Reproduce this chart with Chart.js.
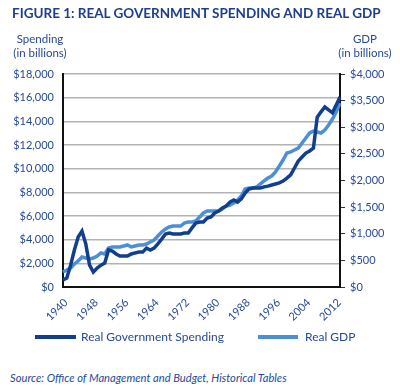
<!DOCTYPE html>
<html>
<head>
<meta charset="utf-8">
<script src="https://cdn.jsdelivr.net/npm/chart.js@4.4.1/dist/chart.umd.min.js"></script>
<style>
  html, body { margin: 0; padding: 0; background: #fff; }
  body { width: 400px; height: 392px; position: relative; overflow: hidden; font-family: Lato, "Open Sans", sans-serif; color: #264a98; }
  .txt { position: absolute; white-space: nowrap; }
  #title { left: 12px; top: 5px; font-size: 13.5px; font-weight: bold; color: #1d3d8f; }
  .unit { font-size: 11.5px; line-height: 14px; text-align: center; }
  #chartBox { position: absolute; left: 0; top: 0; width: 400px; height: 330px; }
  .legLine { position: absolute; height: 4px; }
  #source { left: 10px; top: 371px; font-size: 11.2px; font-style: italic; }
</style>
</head>
<body>
<div id="chartBox"><canvas id="chart"></canvas></div>
<div class="txt" id="title">FIGURE 1: REAL GOVERNMENT SPENDING AND REAL GDP</div>
<div class="txt unit" style="left:12px; top:32px; width:56px;">Spending<br>(in billions)</div>
<div class="txt unit" style="left:337px; top:32px; width:56px;">GDP<br>(in billions)</div>
<div class="legLine" style="left:35px; top:335px; width:41px; background:#113f8e;"></div>
<div class="txt" style="left:81px; top:329px; font-size:12px;">Real Government Spending</div>
<div class="legLine" style="left:258px; top:335px; width:40px; background:#4b8fd6;"></div>
<div class="txt" style="left:305px; top:329px; font-size:12px;">Real GDP</div>
<div class="txt" id="source">Source: Office of Management and Budget, Historical Tables</div>

<script>
// years on the x axis
const years = [
  1940, 1941, 1942, 1943, 1944, 1945, 1946, 1947, 1948, 1949,
  1950, 1951, 1952, 1953, 1954, 1955, 1956, 1957, 1958, 1959,
  1960, 1961, 1962, 1963, 1964, 1965, 1966, 1967, 1968, 1969,
  1970, 1971, 1972, 1973, 1974, 1975, 1976, 1977, 1978, 1979,
  1980, 1981, 1982, 1983, 1984, 1985, 1986, 1987, 1988, 1989,
  1990, 1991, 1992, 1993, 1994, 1995, 1996, 1997, 1998, 1999,
  2000, 2001, 2002, 2003, 2004, 2005, 2006, 2007, 2008, 2009,
  2010, 2011, 2012, 2013
];

// real government spending, billions (right scale)
const spending = [
  130, 170, 410, 695, 940, 1050, 810, 410, 280, 355,
  410, 450, 695, 675, 620, 580, 580, 580, 620, 640,
  655, 655, 730, 695, 730, 810, 900, 995, 1015, 995,
  995, 995, 1015, 1015, 1110, 1200, 1220, 1220, 1295, 1315,
  1390, 1425, 1485, 1520, 1595, 1635, 1595, 1655, 1765, 1840,
  1860, 1860, 1860, 1880, 1895, 1915, 1935, 1955, 1990, 2045,
  2105, 2235, 2365, 2440, 2515, 2555, 2610, 3190, 3290, 3380,
  3325, 3270, 3420, 3570
];

// real GDP, billions (left scale)
const gdp = [
  1270, 1435, 1605, 1945, 2200, 2535, 2450, 2365, 2450, 2620,
  2875, 2790, 3295, 3380, 3380, 3380, 3465, 3550, 3380, 3465,
  3550, 3550, 3635, 3800, 3970, 4310, 4650, 4900, 5070, 5155,
  5155, 5155, 5410, 5495, 5495, 5575, 5915, 6255, 6420, 6420,
  6420, 6420, 6590, 6845, 6930, 7100, 7350, 7690, 8280, 8365,
  8365, 8450, 8705, 8960, 9210, 9380, 9720, 10225, 10730, 11325,
  11410, 11575, 11745, 12170, 12590, 13015, 13180, 13100, 13015, 13265,
  13690, 14195, 14790, 15550
];

const tickColor = "#264a98";
const tickFont = { family: "Lato, 'Open Sans', sans-serif", size: 11 };

function dollars(v) {
  return "$" + v.toLocaleString("en-US");
}

const ctx = document.getElementById("chart").getContext("2d");
new Chart(ctx, {
  type: "line",
  data: {
    labels: years,
    datasets: [
      {
        label: "Real Government Spending",
        data: spending,
        yAxisID: "yRight",
        borderColor: "#113f8e",
        borderWidth: 3.5,
        pointRadius: 0,
        tension: 0,
        order: 1
      },
      {
        label: "Real GDP",
        data: gdp,
        yAxisID: "yLeft",
        borderColor: "#4b8fd6",
        borderWidth: 3.5,
        pointRadius: 0,
        tension: 0,
        order: 2
      }
    ]
  },
  options: {
    responsive: true,
    maintainAspectRatio: false,
    devicePixelRatio: 1,
    animation: false,
    layout: { padding: { top: 74, left: 0, right: 0, bottom: 0 } },
    plugins: {
      legend: { display: false },
      title: { display: false },
      tooltip: { enabled: false }
    },
    scales: {
      x: {
        grid: { display: false },
        border: { color: "#111", width: 2 },
        ticks: {
          autoSkip: false,
          maxRotation: 45,
          minRotation: 45,
          padding: 1,
          labelOffset: 3,
          color: tickColor,
          font: { family: tickFont.family, size: 11 },
          callback: function (value, index) {
            const y = years[index];
            return (y - 1940) % 8 === 0 ? String(y) : "";
          }
        },
        afterFit: (scale) => { scale.height = 43; }
      },
      yLeft: {
        position: "left",
        min: 0,
        max: 18000,
        grid: { color: "#b3b3b3", lineWidth: 1.5, drawTicks: false },
        border: { color: "#111", width: 2 },
        ticks: {
          stepSize: 2000,
          padding: 9,
          color: tickColor,
          font: tickFont,
          callback: (v) => dollars(v)
        },
        afterFit: (scale) => { scale.width = 63; }
      },
      yRight: {
        position: "right",
        min: 0,
        max: 4000,
        grid: { drawOnChartArea: false, drawTicks: true, tickLength: 5, tickColor: "#333", lineWidth: 1 },
        border: { color: "#111", width: 2 },
        ticks: {
          stepSize: 500,
          padding: 5,
          color: tickColor,
          font: tickFont,
          callback: (v) => dollars(v)
        },
        afterFit: (scale) => { scale.width = 60; }
      }
    }
  }
});
</script>
</body>
</html>
